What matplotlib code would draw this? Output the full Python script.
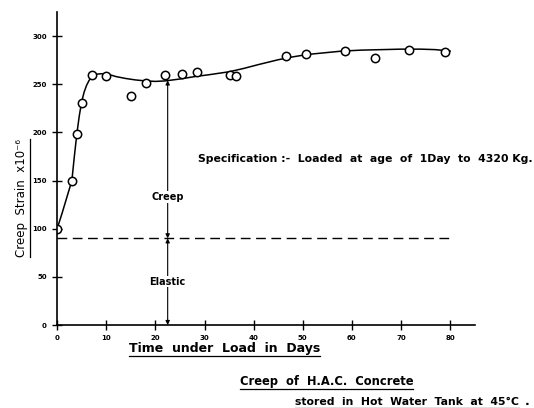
import matplotlib
matplotlib.use("Agg")
import matplotlib.pyplot as plt
from matplotlib.lines import Line2D

# Measured data points (days, strain x1e-6)
days_pts = [0, 3, 4, 5, 7, 10, 15, 18, 22, 25.5, 28.5, 35.2, 36.4, 46.5, 50.6, 58.5, 64.6, 71.7, 79]
strain_pts = [100, 150, 198, 231, 260, 259, 238, 251, 260, 261, 263, 260, 259, 279, 281, 285, 277, 286, 284]

# Fitted curve
curve_days = [0, 1, 2, 3, 3.5, 4, 4.5, 5, 5.5, 6, 6.5, 7, 7.5, 8, 9, 10, 11, 12, 14, 16, 18, 20, 22,
              25, 28, 31, 35, 38, 41, 45, 48, 51, 55, 58, 62, 66, 70, 74, 77, 80]
curve_strain = [100, 116, 133, 150, 175, 198, 217, 232, 242, 249, 254, 257.5, 259.5, 260.5, 261, 260.5,
                259.5, 258, 256, 254.5, 253.5, 253, 253.5, 255.5, 258, 260, 263, 266.5, 270.5, 275.5,
                278.5, 281, 283, 284.5, 285.5, 286, 286.5, 286.5, 286, 284.5]

elastic_level = 90
marker_day = 22.5
creep_top = 254

x_ticks = [0, 10, 20, 30, 40, 50, 60, 70, 80]
y_ticks = [0, 50, 100, 150, 200, 250, 300]

fig = plt.figure(figsize=(5.34, 4.08), dpi=100)
ax = fig.add_axes([0.107, 0.2034, 0.782, 0.767])
ax.set_xlim(0, 85)
ax.set_ylim(0, 325)

ax.plot(curve_days, curve_strain, color="black", lw=1.1)
ax.plot(days_pts, strain_pts, linestyle="none", marker="o", ms=6,
        mfc="white", mec="black", mew=1.1)

ax.plot([0, 80], [elastic_level, elastic_level], color="black", lw=1.0,
        dashes=(7, 4))

ap = dict(arrowstyle="<|-|>", color="black", lw=0.8, mutation_scale=6, shrinkA=0, shrinkB=0)
ax.annotate("", xy=(marker_day, creep_top), xytext=(marker_day, elastic_level), arrowprops=ap)
ax.annotate("", xy=(marker_day, elastic_level), xytext=(marker_day, 0), arrowprops=ap)

fs = dict(fontsize=7, fontweight="bold", family="DejaVu Sans")
ax.text(marker_day, 133, "Creep", ha="center", va="center",
        bbox=dict(facecolor="white", edgecolor="none", pad=0.5), **fs)
ax.text(marker_day, 45, "Elastic", ha="center", va="center",
        bbox=dict(facecolor="white", edgecolor="none", pad=0.5), **fs)
ax.text(28.6, 172, "Specification :-  Loaded  at  age  of  1Day  to  4320 Kg.",
        ha="left", va="center", fontsize=7.8, fontweight="bold")

for s in ["top", "right"]:
    ax.spines[s].set_visible(False)
for s in ["left", "bottom"]:
    ax.spines[s].set_linewidth(1.2)

ax.set_xticks(x_ticks)
ax.set_yticks(y_ticks)
ax.set_xticklabels([str(v) for v in x_ticks])
ax.set_yticklabels([str(v) for v in y_ticks])
ax.tick_params(direction="inout", length=7, width=1.0, labelsize=5, pad=4)
for lab in ax.get_xticklabels() + ax.get_yticklabels():
    lab.set_fontweight("bold")

# Text labels (underlined)
texts = []
texts.append(fig.text(0.42, 0.145, "Time  under  Load  in  Days", ha="center", va="center",
                      fontsize=9, fontweight="bold"))
texts.append(fig.text(0.041, 0.515, "Creep  Strain  x10⁻⁶", ha="center", va="center",
                      rotation=90, fontsize=8.5))
texts.append(fig.text(0.449, 0.064, "Creep  of  H.A.C.  Concrete", ha="left", va="center",
                      fontsize=8.3, fontweight="bold"))
texts.append(fig.text(0.552, 0.015, "stored  in  Hot  Water  Tank  at  45°C", ha="left", va="center",
                      fontsize=7.8, fontweight="bold"))
fig.text(0.982, 0.015, ".", ha="left", va="center", fontsize=9, fontweight="bold")

fig.canvas.draw()
r = fig.canvas.get_renderer()
W, H = fig.bbox.width, fig.bbox.height
for i, t in enumerate(texts):
    bb = t.get_window_extent(r)
    if i == 1:
        x = (bb.x1 + 2) / W
        fig.add_artist(Line2D([x, x], [bb.y0 / H, bb.y1 / H], color="black", lw=0.9))
    else:
        y = (bb.y0 - 1) / H
        fig.add_artist(Line2D([bb.x0 / W, bb.x1 / W], [y, y], color="black", lw=0.9))

fig.savefig("out.png", dpi=100)
